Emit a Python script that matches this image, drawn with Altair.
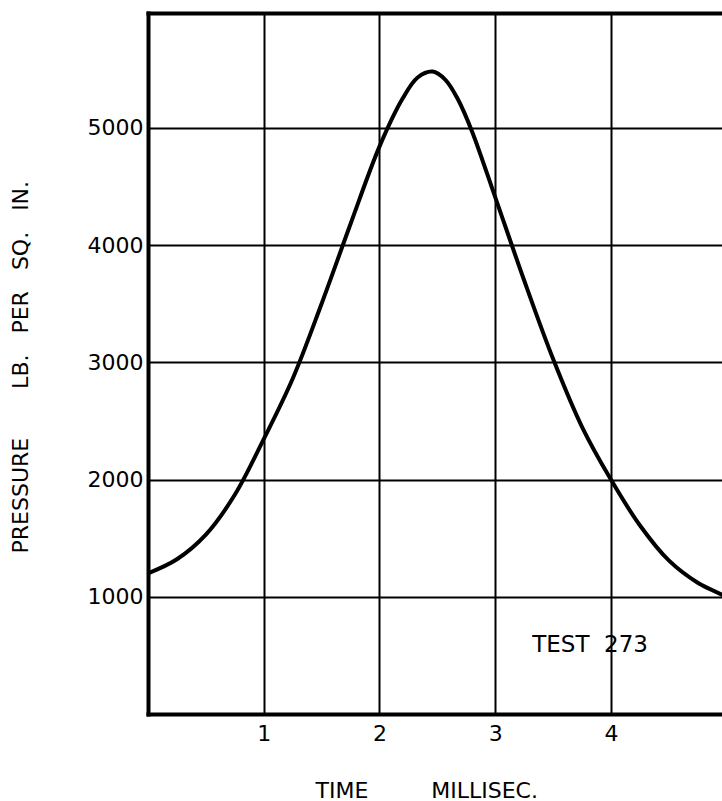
import altair as alt
import pandas as pd

time_ms = [0.0, 0.25, 0.5, 0.75, 1.0, 1.25, 1.5, 1.75, 2.0, 2.2, 2.33, 2.46, 2.57, 2.68,
           2.8, 3.0, 3.25, 3.5, 3.75, 4.0, 4.25, 4.5, 4.75, 5.0]
pressure = [1200, 1320, 1530, 1870, 2345, 2860, 3500, 4180, 4840, 5250, 5430, 5480, 5410, 5240,
            4970, 4410, 3700, 3030, 2450, 2000, 1610, 1310, 1120, 1000]

x_ticks = [1, 2, 3, 4]
y_ticks = [1000, 2000, 3000, 4000, 5000]
annotation_text = ["TEST\u00a0\u00a0273"]
annotation_t = [3.82]
annotation_p = [590]

FONT = "DejaVu Sans"
NB = "\u00a0"

df = pd.DataFrame({"t": time_ms, "p": pressure})
ann = pd.DataFrame({"t": annotation_t, "p": annotation_p, "label": annotation_text})

# plot area: 574 px wide shows 0..4.96 ms (the frame continues past the page edge)
x_scale = alt.Scale(domain=[0, 4.96], nice=False, zero=False)
y_scale = alt.Scale(domain=[0, 5980], nice=False, zero=False)

x_title = "TIME" + NB * 9 + "MILLISEC."
y_title = "PRESSURE" + NB * 7 + "LB." + NB * 3 + "PER" + NB * 3 + "SQ." + NB * 3 + "IN."

border = dict(domain=True, domainColor="black", domainWidth=4, domainCap="square", domainOpacity=1)

line = alt.Chart(df).mark_line(
    color="black", strokeWidth=4, interpolate="catmull-rom", clip=True
).encode(
    x=alt.X("t:Q", scale=x_scale, axis=alt.Axis(
        values=x_ticks, format="d", grid=True, gridColor="black", gridWidth=2, gridOpacity=1,
        ticks=False, labelFont=FONT, labelFontSize=22,
        labelColor="black", labelPadding=9,
        title=x_title,
        titleFont=FONT, titleFontSize=22, titleFontWeight="normal", titleColor="black",
        titleX=167, titleY=76, titleBaseline="middle", titleAlign="left", **border)),
    y=alt.Y("p:Q", scale=y_scale, axis=alt.Axis(
        values=y_ticks, format="d", grid=True, gridColor="black", gridWidth=2, gridOpacity=1,
        ticks=False, labelFont=FONT, labelFontSize=22,
        labelColor="black", labelPadding=5,
        title=y_title,
        titleFont=FONT, titleFontSize=22, titleFontWeight="normal", titleColor="black",
        titleX=-128, titleY=540, titleAngle=270, titleBaseline="middle", titleAlign="left",
        **border)),
)

text = alt.Chart(ann).mark_text(
    font=FONT, fontSize=23, color="black", align="center", baseline="middle"
).encode(
    x=alt.X("t:Q", scale=x_scale, axis=alt.Axis(
        orient="top", labels=False, ticks=False, grid=False, title="", **border)),
    y=alt.Y("p:Q", scale=y_scale, axis=None),
    text="label:N",
)

chart = (line + text).resolve_axis(x="independent", y="independent").properties(
    width=574, height=701,
    autosize=alt.AutoSizeParams(type="none"),
    padding={"left": 148, "top": 13, "right": 0, "bottom": 87},
    background="white",
).configure_view(strokeWidth=0)

chart.save("out.html", embed_options={"renderer": "svg", "actions": False})
